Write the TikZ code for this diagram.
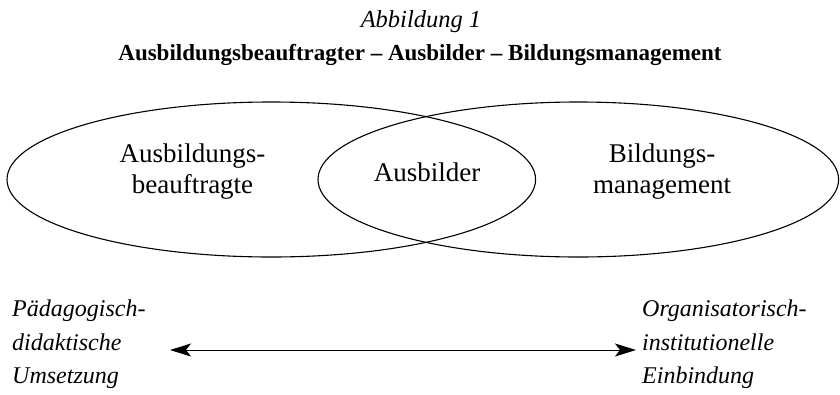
\documentclass[tikz,border=0pt]{standalone}
\usepackage{fontspec}
\setmainfont{Liberation Serif}
\usetikzlibrary{arrows.meta}

\begin{document}
\begin{tikzpicture}[x=1pt,y=-1pt,
  ring/.style={draw=black,line width=1.1pt},
  label/.style={font=\fontsize{27}{31}\selectfont,align=center,inner sep=0pt},
  pole/.style={font=\fontsize{24}{33.5}\selectfont\itshape,align=left,inner sep=0pt},
  both/.style={line width=1pt,{Stealth[length=21pt,width=13pt,inset=5pt]}-{Stealth[length=21pt,width=13pt,inset=5pt]}}]
  \useasboundingbox (0,0) rectangle (840,394);

  % heading
  \node[anchor=base,inner sep=0pt,font=\fontsize{24.5}{28}\selectfont\itshape] (fig) at (421,27) {Abbildung 1};
  \node[anchor=base,inner sep=0pt,font=\fontsize{23}{27}\selectfont\bfseries] (title) at (420,60)
    {Ausbildungsbeauftragter – Ausbilder – Bildungsmanagement};

  % the two overlapping fields
  \draw[ring] (271.3,179.5) ellipse [x radius=264.3, y radius=77.5];
  \draw[ring] (578.3,179.5) ellipse [x radius=260.3, y radius=77.5];

  \node[label] (left) at (192.5,172) {Ausbildungs-\\beauftragte};
  \node[label] (mid) at (427,172) {Ausbilder};
  \node[label] (right) at (662,172) {Bildungs-\\management};

  % the two poles
  \node[pole,anchor=north west] (pa) at (12,300) {Pädagogisch-\\didaktische\\Umsetzung};
  \node[pole,anchor=north west] (pb) at (642,300) {Organisatorisch-\\institutionelle\\Einbindung};

  % double-headed arrow between the poles
  \coordinate (la) at (170,350);
  \coordinate (ra) at (636,350);
  \draw[both] (la) -- (ra);
\end{tikzpicture}
\end{document}
